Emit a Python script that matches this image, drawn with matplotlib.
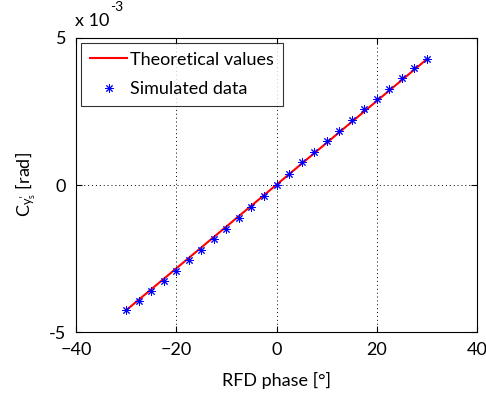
import numpy as np
import matplotlib
matplotlib.use("Agg")
import matplotlib.pyplot as plt

# RFD phase [deg] and C_y's [rad]
phase_theory = [-30, 30]
c_theory = [-4.26e-3, 4.28e-3]

phase_sim = [-30, -27.5, -25, -22.5, -20, -17.5, -15, -12.5, -10, -7.5,
             -5, -2.5, 0, 2.5, 5, 7.5, 10, 12.5, 15, 17.5,
             20, 22.5, 25, 27.5, 30]
c_sim = [-4.25, -3.94, -3.62, -3.27, -2.91, -2.56, -2.21, -1.85, -1.50, -1.11,
         -0.76, -0.37, -0.01, 0.38, 0.77, 1.11, 1.50, 1.85, 2.22, 2.57,
         2.93, 3.28, 3.63, 3.97, 4.29]
c_sim = [v * 1e-3 for v in c_sim]

xticks = [-40, -20, 0, 20, 40]
yticks = [-5e-3, 0, 5e-3]
ytick_labels = ['-5', '0', '5']

plt.rcParams['font.family'] = ['Lato', 'DejaVu Sans']
plt.rcParams['mathtext.fontset'] = 'custom'
plt.rcParams['mathtext.rm'] = 'Lato'
plt.rcParams['mathtext.it'] = 'Lato'

fs = 13

fig = plt.figure(figsize=(4.86, 3.97), dpi=100)
ax = fig.add_axes([0.1564, 0.1637, 0.8251, 0.7406])

ax.plot(phase_theory, c_theory, color='red', lw=1.5, label='Theoretical values')
ax.plot(phase_sim, c_sim, ls='none', marker=(8, 2, 0), ms=6, mew=0.7,
        color='blue', label='Simulated data')

ax.set_xlim(-40, 40)
ax.set_ylim(-5e-3, 5e-3)
ax.set_xticks(xticks)
ax.set_yticks(yticks)
ax.set_yticklabels(ytick_labels)
ax.tick_params(direction='in', top=True, right=True, labelsize=fs, length=4,
               width=0.8, colors='black', pad=7)
ax.grid(True, color='black', ls=(0, (1, 3)), lw=0.7)
for s in ax.spines.values():
    s.set_linewidth(0.8)

ax.set_xlabel('RFD phase [°]', fontsize=fs, labelpad=10)
ax.set_ylabel(r"C$_{\mathregular{y}^{\prime}_{\mathregular{s}}}$ [rad]", fontsize=fs, labelpad=8)

ax.text(-0.003, 1.03, 'x 10', transform=ax.transAxes, fontsize=fs, ha='left', va='bottom')
ax.text(0.085, 1.085, '-3', transform=ax.transAxes, fontsize=10, ha='left', va='bottom')

leg = ax.legend(loc='upper left', fontsize=fs, frameon=True, fancybox=False,
                edgecolor='black', borderaxespad=0.25, handlelength=2.1,
                borderpad=0.5, labelspacing=0.75, handletextpad=0.15)
leg.get_frame().set_linewidth(0.8)

fig.savefig('out.png', dpi=100)
